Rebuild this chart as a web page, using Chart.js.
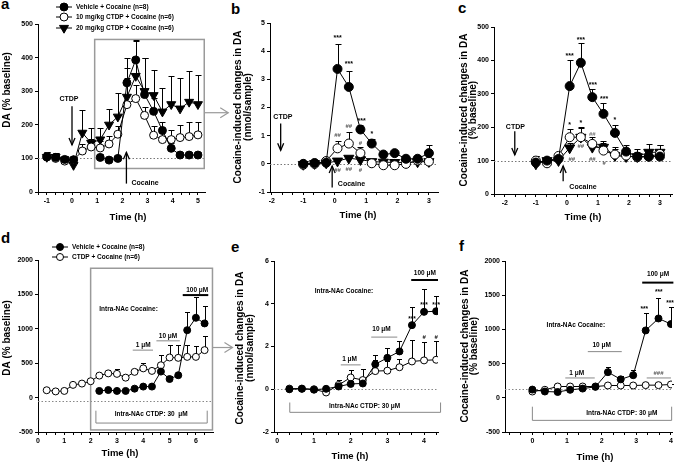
<!DOCTYPE html>
<html><head><meta charset="utf-8">
<script src="https://cdn.jsdelivr.net/npm/chart.js@4.4.1/dist/chart.umd.min.js"></script>
<style>
html,body{margin:0;padding:0;background:#fff;}
body{width:685px;height:463px;position:relative;overflow:hidden;font-family:"Liberation Sans",Arial,sans-serif;}
canvas{position:absolute;}
.lbl{position:absolute;font-weight:bold;font-size:15px;line-height:15px;color:#000;}
</style></head><body>
<div class="lbl" style="left:1px;top:-4px">a</div>
<div class="lbl" style="left:231px;top:1px">b</div>
<div class="lbl" style="left:458px;top:0px">c</div>
<div class="lbl" style="left:1px;top:230px">d</div>
<div class="lbl" style="left:231px;top:239px">e</div>
<div class="lbl" style="left:459px;top:238px">f</div>
<script>
// ================= DATA =================
// Panel a : systemic CTDP, DA (% baseline)
const aTime = [-1, -0.65, -0.29, 0.06, 0.41, 0.76, 1.12, 1.47, 1.82, 2.18, 2.53, 2.88, 3.24, 3.59, 3.94, 4.29, 4.65, 5.0];
const aVehicle    = [104, 103, 97, 96, null, null, 103, 95, 100, 325, 393, 290, 240, 183, 130, 110, 110, 110];
const aVehicleErr = [15, 12, 10, 8, null, null, 10, 8, 8, 75, 58, 108, 40, 25, 15, 8, 8, 8];
const aCTDP10     = [105, 100, 92, 95, 122, 134, 131, 143, 172, 260, 278, 228, 169, 156, 156, 162, 165, 170];
const aCTDP10Err  = [10, 8, 8, 8, 20, 25, 20, 25, 25, 80, 40, 25, 27, 30, 30, 37, 44, 38];
const aCTDP20     = [104, 104, 96, 80, 176, 146, 156, 200, 224, 283, 345, 300, 288, 239, 261, 248, 268, 261];
const aCTDP20Err  = [15, 12, 10, 10, 69, 43, 33, 48, 71, 85, 105, 100, 75, 70, 84, 90, 92, 87];
const aYTicks = [0, 500, 100];

// Panels b and c share the time base
const bcTime = [-1, -0.64, -0.27, 0.09, 0.45, 0.82, 1.18, 1.55, 1.91, 2.27, 2.64, 3.0];
// Panel b : nmol/sample
const bVehicle    = [0, 0.03, 0.04, 3.37, 2.73, 1.22, 0.72, 0.33, 0.38, 0.18, 0.18, 0.38];
const bVehicleErr = [0.03, 0.03, 0.04, 0.9, 0.57, 0.15, 0.17, 0.1, 0.08, 0.07, 0.08, 0.28];
const bCTDP10     = [-0.03, 0.0, 0.1, 0.55, 0.72, 0.38, 0.02, -0.05, -0.05, 0.0, 0.12, 0.08];
const bCTDP10Err  = [0.03, 0.03, 0.03, 0.27, 0.42, 0.2, 0.05, 0.05, 0.05, 0.05, 0.06, 0.05];
const bCTDP20     = [-0.02, 0.01, 0.03, 0.1, 0.2, 0.15, 0.08, 0.06, 0.05, 0.05, 0.07, 0.08];
const bCTDP20Err  = [0.02, 0.02, 0.02, 0.03, 0.05, 0.04, 0.03, 0.03, 0.03, 0.03, 0.03, 0.03];
const bYTicks = [-1, 5, 1];
// Panel c : % baseline
const cVehicle    = [94, 100, 105, 323, 393, 290, 240, 183, 127, 112, 112, 112];
const cVehicleErr = [20, 8, 10, 77, 59, 23, 33, 25, 20, 12, 12, 15];
const cCTDP10     = [100, 92, 114, 170, 170, 150, 130, 118, 115, 110, 112, 120];
const cCTDP10Err  = [15, 8, 8, 24, 27, 22, 22, 18, 15, 15, 15, 27];
const cCTDP20     = [90, 100, 100, 138, 170, 140, 140, 115, 112, 112, 125, 125];
const cCTDP20Err  = [10, 5, 8, 15, 30, 12, 20, 25, 25, 22, 25, 22];
const cYTicks = [0, 500, 100];

// Panel d : intra-NAc, DA (% baseline)
const dTime = [0.33, 0.67, 1, 1.33, 1.67, 2, 2.33, 2.67, 3, 3.33, 3.67, 4, 4.33, 4.67, 5, 5.33, 5.67, 6, 6.33];
const dVehicle    = [null, null, null, null, null, null, 97, 110, 97, 97, 130, 160, 160, 378, 270, 325, 980, 1160, 1078];
const dVehicleErr = [null, null, null, null, null, null, 20, 20, 20, 20, 25, 25, 25, 234, 40, 40, 260, 300, 252];
const dCTDP       = [107, 90, 97, 185, 204, 238, 320, 352, 345, 290, 374, 425, 388, 470, 583, 578, 592, 592, 690];
const dCTDPErr    = [15, 15, 15, 20, 20, 25, 30, 56, 77, 30, 40, 80, 40, 150, 180, 180, 170, 165, 210];
const dYTicks = [-500, 2000, 500];

// Panel e : nmol/sample
const eTime = [0.33, 0.67, 1, 1.33, 1.67, 2, 2.33, 2.67, 3, 3.33, 3.67, 4, 4.33];
const eVehicle    = [0, 0.02, -0.02, 0.02, 0.13, 0.25, 0.27, 1.17, 1.47, 1.77, 3.0, 3.62, 3.65];
const eVehicleErr = [0.08, 0.08, 0.08, 0.08, 0.1, 0.15, 0.2, 0.44, 0.45, 0.51, 0.87, 1.06, 0.73];
const eCTDP       = [0.03, 0.03, 0.0, -0.15, 0.2, 0.55, 0.43, 0.85, 0.87, 1.03, 1.3, 1.35, 1.38];
const eCTDPErr    = [0.08, 0.12, 0.08, 0.08, 0.24, 0.33, 0.51, 0.53, 0.45, 0.4, 1.0, 0.88, 0.88];
const eYTicks = [-2, 6, 2];

// Panel f : % baseline
const fTime = [0, 0.36, 0.73, 1.09, 1.45, 1.82, 2.18, 2.55, 2.91, 3.27, 3.64, 4.0];
const fVehicle    = [120, 92, 85, 117, 135, 160, 375, 270, 330, 985, 1160, 1078];
const fVehicleErr = [15, 12, 12, 15, 15, 15, 75, 50, 80, 255, 295, 255];
const fCTDP       = [92, 117, 165, 165, 165, 165, 180, 180, 180, 185, 185, 195];
const fCTDPErr    = [10, 10, 10, 10, 10, 10, 10, 10, 10, 10, 10, 10];
const fYTicks = [-500, 2000, 500];

// ================= DRAWING =================
const FONT = '"Liberation Sans", Arial, Helvetica, sans-serif';
const fnt = (s, w) => (w || 'bold') + ' ' + s + 'px ' + FONT;
const GRAY = '#9a9a9a';
const EXTRA = {};

function drawMarker(ctx, m, x, y, r) {
  ctx.save();
  ctx.lineWidth = 1; ctx.strokeStyle = '#000';
  ctx.beginPath();
  if (m === 'tri') {
    const R = r * 1.3;
    ctx.moveTo(x, y + R);
    ctx.lineTo(x + R * 0.866, y - R / 2);
    ctx.lineTo(x - R * 0.866, y - R / 2);
    ctx.closePath();
    ctx.fillStyle = '#000';
  } else {
    ctx.arc(x, y, r, 0, Math.PI * 2);
    ctx.fillStyle = m === 'open' ? '#fff' : '#000';
  }
  ctx.fill(); ctx.stroke();
  ctx.restore();
}

function head(ctx, tx, ty, dx, dy, len, half) {
  const bx = tx - dx * len, by = ty - dy * len;
  const px = -dy, py = dx;
  ctx.beginPath();
  ctx.moveTo(bx + px * half, by + py * half);
  ctx.lineTo(tx, ty);
  ctx.lineTo(bx - px * half, by - py * half);
  ctx.stroke();
}

function drawItem(chart, it) {
  const ctx = chart.ctx;
  const xs = chart.scales.x, ys = chart.scales.y, ca = chart.chartArea;
  const X = v => xs.getPixelForValue(v), Y = v => ys.getPixelForValue(v);
  ctx.save();
  ctx.strokeStyle = it.c || '#000'; ctx.fillStyle = it.c || '#000';
  ctx.lineWidth = it.lw || 1;
  ctx.textBaseline = 'middle';
  switch (it.k) {
    case 'text':
      ctx.font = fnt(it.s || 7, it.w); ctx.textAlign = it.a || 'center';
      ctx.fillText(it.t, X(it.x), Y(it.y)); break;
    case 'hline':
      ctx.setLineDash(it.dash || [1.5, 2]);
      ctx.beginPath(); ctx.moveTo(ca.left, Math.round(Y(it.y)) + 0.5); ctx.lineTo(ca.right, Math.round(Y(it.y)) + 0.5); ctx.stroke(); break;
    case 'line':
      ctx.beginPath(); ctx.moveTo(X(it.x1), Y(it.y1)); ctx.lineTo(X(it.x2), Y(it.y2)); ctx.stroke(); break;
    case 'rect':
      ctx.strokeRect(X(it.x1), Y(it.y2), X(it.x2) - X(it.x1), Y(it.y1) - Y(it.y2)); break;
    case 'bracket': {
      const yb = Y(it.y), yt = Y(it.yt);
      ctx.beginPath();
      ctx.moveTo(X(it.x1), yt); ctx.lineTo(X(it.x1), yb); ctx.lineTo(X(it.x2), yb); ctx.lineTo(X(it.x2), yt);
      ctx.stroke(); break;
    }
    case 'varrow': {
      const x = X(it.x), y1 = Y(it.y1), y2 = Y(it.y2);
      const d = y2 > y1 ? 1 : -1;
      ctx.lineWidth = 1.3;
      ctx.beginPath(); ctx.moveTo(x, y1); ctx.lineTo(x, y2); ctx.stroke();
      head(ctx, x, y2, 0, d, 7, 3); break;
    }
    case 'harrow': {
      const x = X(it.x), y = Y(it.y);
      ctx.beginPath(); ctx.moveTo(x, y); ctx.lineTo(x + it.len, y); ctx.stroke();
      head(ctx, x + it.len, y, 1, 0, 8, 5); break;
    }
    case 'leg': {
      ctx.strokeStyle = '#000'; ctx.lineWidth = 1;
      ctx.beginPath(); ctx.moveTo(it.px - 8, it.py); ctx.lineTo(it.px + 8, it.py); ctx.stroke();
      drawMarker(ctx, it.m, it.px, it.py, it.r || 4);
      ctx.font = fnt(it.s || 6.5, it.w); ctx.textAlign = 'left'; ctx.fillStyle = '#000';
      ctx.fillText(it.t, it.px + 12, it.py + 0.5); break;
    }
  }
  ctx.restore();
}

const deco = {
  id: 'deco',
  beforeDatasetsDraw(chart) {
    const p = EXTRA[chart.canvas.id];
    p.items.filter(i => i.below).forEach(i => drawItem(chart, i));
    const ctx = chart.ctx;
    chart.data.datasets.forEach((ds, di) => {
      const meta = chart.getDatasetMeta(di);
      const err = ds.errorBars;
      if (!err) return;
      ctx.save();
      ctx.strokeStyle = '#000'; ctx.lineWidth = 1;
      meta.data.forEach((pt, i) => {
        const v = ds.data[i].y, e = err[i];
        if (v == null || e == null) return;
        const x = Math.round(pt.x) + 0.5;
        const yTop = Math.round(chart.scales.y.getPixelForValue(v + e)) + 0.5;
        ctx.beginPath();
        ctx.moveTo(x, pt.y); ctx.lineTo(x, yTop);
        ctx.moveTo(x - p.cap, yTop); ctx.lineTo(x + p.cap, yTop);
        ctx.stroke();
      });
      ctx.restore();
    });
  },
  afterDatasetsDraw(chart) {
    const p = EXTRA[chart.canvas.id];
    p.items.filter(i => !i.below).forEach(i => drawItem(chart, i));
  },
  afterDraw(chart) {
    const p = EXTRA[chart.canvas.id];
    const ctx = chart.ctx;
    ctx.save();
    ctx.fillStyle = '#000'; ctx.textAlign = 'center'; ctx.textBaseline = 'middle';
    ctx.font = fnt(p.xTitle.s || 9.5);
    ctx.fillText('Time (h)', p.xTitle.x - p.L, p.xTitle.y - p.T);
    ctx.font = fnt(p.yTitle.s || 10);
    p.yTitle.lines.forEach((t, i) => {
      ctx.save();
      ctx.translate(p.yTitle.x[i] - p.L, p.yTitle.y - p.T);
      ctx.rotate(-Math.PI / 2);
      ctx.fillText(t, 0, 0);
      ctx.restore();
    });
    ctx.restore();
  }
};

function style(m, r) {
  const base = { borderColor: '#000', borderWidth: 1, pointBorderColor: '#000', pointBorderWidth: 1, spanGaps: false, fill: false, tension: 0 };
  if (m === 'tri') return Object.assign(base, { pointStyle: 'triangle', pointRotation: 180, pointRadius: r * 1.3, pointBackgroundColor: '#000' });
  if (m === 'open') return Object.assign(base, { pointStyle: 'circle', pointRadius: r, pointBackgroundColor: '#fff' });
  return Object.assign(base, { pointStyle: 'circle', pointRadius: r, pointBackgroundColor: '#000' });
}

function makePanel(p) {
  const cv = document.createElement('canvas');
  cv.id = p.id; cv.width = p.W; cv.height = p.H;
  cv.style.left = p.L + 'px'; cv.style.top = p.T + 'px';
  cv.style.width = p.W + 'px'; cv.style.height = p.H + 'px';
  document.body.appendChild(cv);
  EXTRA[p.id] = p;
  const yAxisW = p.area.l - p.L;
  const xAxisH = p.T + p.H - p.area.b;
  const tickFont = { family: FONT, size: 7, weight: 'bold' };
  new Chart(cv, {
    type: 'line',
    data: {
      datasets: p.series.map(s => Object.assign({
        data: s.x.map((x, i) => ({ x: x, y: s.y[i] })),
        errorBars: s.err
      }, style(s.m, p.r)))
    },
    options: {
      responsive: false, animation: false, devicePixelRatio: 1,
      layout: { padding: { top: p.area.t - p.T, right: p.L + p.W - p.area.r, bottom: 0, left: 0 } },
      plugins: { legend: { display: false }, tooltip: { enabled: false } },
      scales: {
        x: {
          type: 'linear', position: 'bottom', min: p.xMin, max: p.xMax,
          afterBuildTicks(s) {
            const t = [];
            for (let k = Math.ceil(s.min * 3 - 1e-6); k <= Math.floor(s.max * 3 + 1e-6); k++) t.push({ value: k / 3 });
            s.ticks = t;
          },
          afterFit(s) { s.height = xAxisH; },
          ticks: { font: tickFont, color: '#000', padding: 2, autoSkip: false, maxRotation: 0,
            callback: v => Math.abs(v - Math.round(v)) < 1e-6 ? String(Math.round(v)) : '' },
          grid: { drawOnChartArea: false, drawTicks: true, tickLength: 3, color: '#000', lineWidth: 1 },
          border: { display: true, color: '#000', width: 1 },
          title: { display: false }
        },
        y: {
          type: 'linear', position: 'left', min: p.yt[0], max: p.yt[1],
          afterFit(s) { s.width = yAxisW; },
          ticks: { stepSize: p.yt[2], font: tickFont, color: '#000', padding: 2, callback: v => String(v) },
          grid: { drawOnChartArea: false, drawTicks: true, tickLength: 3, color: '#000', lineWidth: 1 },
          border: { display: true, color: '#000', width: 1 },
          title: { display: false }
        }
      }
    },
    plugins: [deco]
  });
}

const panels = [
  { id: 'pa', L: 0, T: 0, W: 236, H: 232, area: { l: 38, r: 205, t: 24, b: 192 },
    xMin: -1.35, xMax: 5.28, yt: aYTicks, r: 4, cap: 3,
    series: [
      { x: aTime, y: aVehicle, err: aVehicleErr, m: 'filled' },
      { x: aTime, y: aCTDP10, err: aCTDP10Err, m: 'open' },
      { x: aTime, y: aCTDP20, err: aCTDP20Err, m: 'tri' }],
    xTitle: { x: 128, y: 217 }, yTitle: { lines: ['DA (% baseline)'], x: [7], y: 90 },
    items: [
      { k: 'hline', y: 100, c: '#777', below: true },
      { k: 'rect', x1: 0.9, x2: 5.25, y1: 70, y2: 454, c: GRAY, lw: 1.5, below: true },
      { k: 'harrow', x: 5.25, y: 236, len: 24, c: GRAY, lw: 1.2 },
      { k: 'varrow', x: 0, y1: 255, y2: 140 },
      { k: 'text', x: -0.12, y: 277, t: 'CTDP' },
      { k: 'varrow', x: 2.16, y1: 25, y2: 118 },
      { k: 'text', x: 2.36, y: 26, t: 'Cocaine', a: 'left' },
      { k: 'leg', px: 64, py: 7, m: 'filled', t: 'Vehicle + Cocaine (n=8)' },
      { k: 'leg', px: 64, py: 17, m: 'open', t: '10 mg/kg CTDP + Cocaine (n=6)' },
      { k: 'leg', px: 64, py: 28, m: 'tri', t: '20 mg/kg CTDP + Cocaine (n=6)' }
    ] },
  { id: 'pb', L: 225, T: 0, W: 230, H: 232, area: { l: 270, r: 438, t: 23, b: 192 },
    xMin: -2.06, xMax: 3.29, yt: bYTicks, r: 4.5, cap: 3,
    series: [
      { x: bcTime, y: bVehicle, err: bVehicleErr, m: 'filled' },
      { x: bcTime, y: bCTDP10, err: bCTDP10Err, m: 'open' },
      { x: bcTime, y: bCTDP20, err: bCTDP20Err, m: 'tri' }],
    xTitle: { x: 358, y: 215 }, yTitle: { lines: ['Cocaine-induced changes in DA', '(nmol/sample)'], x: [238.5, 248], y: 107 },
    items: [
      { k: 'hline', y: 0, c: '#777', below: true },
      { k: 'varrow', x: -1.72, y1: 1.43, y2: 0.48 },
      { k: 'text', x: -1.65, y: 1.66, t: 'CTDP' },
      { k: 'varrow', x: -0.08, y1: -0.84, y2: -0.08 },
      { k: 'text', x: 0.1, y: -0.71, t: 'Cocaine', a: 'left' },
      { k: 'text', x: 0.09, y: 4.45, t: '***' },
      { k: 'text', x: 0.45, y: 3.55, t: '***' },
      { k: 'text', x: 0.86, y: 1.52, t: '***' },
      { k: 'text', x: 1.18, y: 1.06, t: '*' },
      { k: 'text', x: 0.09, y: 1.02, t: '##', c: '#555', s: 6 },
      { k: 'text', x: 0.45, y: 1.33, t: '##', c: '#555', s: 6 },
      { k: 'text', x: 0.82, y: 0.72, t: '#', c: '#555', s: 6 },
      { k: 'text', x: 0.09, y: -0.24, t: '##', c: '#555', s: 6 },
      { k: 'text', x: 0.45, y: -0.2, t: '##', c: '#555', s: 6 },
      { k: 'text', x: 0.82, y: -0.24, t: '#', c: '#555', s: 6 }
    ] },
  { id: 'pc', L: 455, T: 0, W: 230, H: 232, area: { l: 494, r: 672, t: 27, b: 194 },
    xMin: -2.35, xMax: 3.39, yt: cYTicks, r: 4.5, cap: 3,
    series: [
      { x: bcTime, y: cVehicle, err: cVehicleErr, m: 'filled' },
      { x: bcTime, y: cCTDP10, err: cCTDP10Err, m: 'open' },
      { x: bcTime, y: cCTDP20, err: cCTDP20Err, m: 'tri' }],
    xTitle: { x: 583, y: 217 }, yTitle: { lines: ['Cocaine-induced changes in DA', '(% baseline)'], x: [464, 473.5], y: 110 },
    items: [
      { k: 'hline', y: 100, c: '#777', below: true },
      { k: 'varrow', x: -1.68, y1: 188, y2: 117 },
      { k: 'text', x: -1.66, y: 201, t: 'CTDP' },
      { k: 'varrow', x: -0.12, y1: 38, y2: 84 },
      { k: 'text', x: 0.08, y: 21, t: 'Cocaine', a: 'left' },
      { k: 'text', x: 0.09, y: 412, t: '***' },
      { k: 'text', x: 0.45, y: 462, t: '***' },
      { k: 'text', x: 0.84, y: 325, t: '***' },
      { k: 'text', x: 1.2, y: 283, t: '***' },
      { k: 'text', x: 1.55, y: 222, t: '*' },
      { k: 'text', x: 0.09, y: 207, t: '*' },
      { k: 'text', x: 0.45, y: 212, t: '*' },
      { k: 'text', x: 0.45, y: 142, t: '##', c: '#555', s: 6 },
      { k: 'text', x: 0.82, y: 178, t: '##', c: '#777', s: 6 },
      { k: 'text', x: 0.16, y: 104, t: '##', c: '#555', s: 6 },
      { k: 'text', x: 0.82, y: 104, t: '##', c: '#555', s: 6 },
      { k: 'text', x: 1.2, y: 92, t: '#', c: '#555', s: 6 }
    ] },
  { id: 'pd', L: 0, T: 232, W: 236, H: 231, area: { l: 38, r: 213, t: 260, b: 432 },
    xMin: 0, xMax: 6.65, yt: dYTicks, r: 3.5, cap: 2.5,
    series: [
      { x: dTime, y: dVehicle, err: dVehicleErr, m: 'filled' },
      { x: dTime, y: dCTDP, err: dCTDPErr, m: 'open' }],
    xTitle: { x: 120, y: 453 }, yTitle: { lines: ['DA (% baseline)'], x: [7.5], y: 338 },
    items: [
      { k: 'hline', y: -55, c: '#888', below: true },
      { k: 'rect', x1: 2.0, x2: 6.63, y1: -470, y2: 1880, c: GRAY, lw: 1.5, below: true },
      { k: 'harrow', x: 6.63, y: 728, len: 20, c: GRAY, lw: 1.2 },
      { k: 'bracket', x1: 2.2, x2: 6.43, y: -370, yt: -190, c: '#888' },
      { k: 'text', x: 4.3, y: -235, t: 'Intra-NAc CTDP: 30  μM', s: 6.5 },
      { k: 'text', x: 2.33, y: 1282, t: 'Intra-NAc Cocaine:', a: 'left', s: 6.5 },
      { k: 'text', x: 4.0, y: 765, t: '1 μM', s: 6.5 },
      { k: 'line', x1: 3.6, x2: 4.37, y1: 690, y2: 690, c: '#888' },
      { k: 'text', x: 4.94, y: 893, t: '10 μM', s: 6.5 },
      { k: 'line', x1: 4.5, x2: 5.39, y1: 825, y2: 825, c: '#888' },
      { k: 'text', x: 6.05, y: 1560, t: '100 μM', s: 6.5 },
      { k: 'line', x1: 5.5, x2: 6.47, y1: 1490, y2: 1490, lw: 2 },
      { k: 'leg', px: 60, py: 15, m: 'filled', r: 3.5, t: 'Vehicle + Cocaine (n=8)' },
      { k: 'leg', px: 60, py: 25, m: 'open', r: 3.5, t: 'CTDP + Cocaine (n=6)' }
    ] },
  { id: 'pe', L: 225, T: 232, W: 230, H: 231, area: { l: 274, r: 438, t: 261, b: 432 },
    xMin: -0.09, xMax: 4.38, yt: eYTicks, r: 3.5, cap: 2.5,
    series: [
      { x: eTime, y: eVehicle, err: eVehicleErr, m: 'filled' },
      { x: eTime, y: eCTDP, err: eCTDPErr, m: 'open' }],
    xTitle: { x: 350, y: 456 }, yTitle: { lines: ['Cocaine-induced changes in DA', '(nmol/sample)'], x: [240, 250], y: 348 },
    items: [
      { k: 'hline', y: 0, c: '#888', below: true },
      { k: 'bracket', x1: 0.34, x2: 4.45, y: -1.08, yt: -0.62, c: '#888' },
      { k: 'text', x: 2.38, y: -0.77, t: 'Intra-NAc CTDP: 30 μM', s: 6.5 },
      { k: 'text', x: 1.02, y: 4.57, t: 'Intra-NAc Cocaine:', a: 'left', s: 6.5 },
      { k: 'text', x: 1.97, y: 1.42, t: '1 μM', s: 6.5 },
      { k: 'line', x1: 1.73, x2: 2.27, y1: 1.14, y2: 1.14, c: '#888' },
      { k: 'text', x: 2.84, y: 2.8, t: '10 μM', s: 6.5 },
      { k: 'line', x1: 2.56, x2: 3.27, y1: 2.44, y2: 2.44, c: '#888' },
      { k: 'text', x: 4.02, y: 5.44, t: '100 μM', s: 6.5 },
      { k: 'line', x1: 3.65, x2: 4.38, y1: 5.11, y2: 5.11, lw: 2 },
      { k: 'text', x: 3.67, y: 3.27, t: '***', s: 6.5 },
      { k: 'text', x: 4.0, y: 3.95, t: '***', s: 6.5 },
      { k: 'text', x: 4.33, y: 3.95, t: '***', s: 6.5 },
      { k: 'text', x: 4.0, y: 2.44, t: '#', s: 6 },
      { k: 'text', x: 4.33, y: 2.44, t: '#', s: 6 }
    ] },
  { id: 'pf', L: 455, T: 232, W: 230, H: 231, area: { l: 505, r: 672, t: 261, b: 432 },
    xMin: -0.79, xMax: 4.03, yt: fYTicks, r: 3.5, cap: 2.5,
    series: [
      { x: fTime, y: fVehicle, err: fVehicleErr, m: 'filled' },
      { x: fTime, y: fCTDP, err: fCTDPErr, m: 'open' }],
    xTitle: { x: 595, y: 457 }, yTitle: { lines: ['Cocaine-induced changes in DA', '(% baseline)'], x: [465, 474], y: 346 },
    items: [
      { k: 'hline', y: 126, c: '#888', below: true },
      { k: 'bracket', x1: 0.0, x2: 4.02, y: -330, yt: -130, c: '#888' },
      { k: 'text', x: 2.58, y: -223, t: 'Intra-NAc CTDP: 30 μM', s: 6.5 },
      { k: 'text', x: 0.41, y: 1063, t: 'Intra-NAc Cocaine:', a: 'left', s: 6.5 },
      { k: 'text', x: 1.28, y: 362, t: '1 μM', s: 6.5 },
      { k: 'line', x1: 0.95, x2: 1.8, y1: 290, y2: 290, c: '#888' },
      { k: 'text', x: 2.0, y: 772, t: '10 μM', s: 6.5 },
      { k: 'line', x1: 1.6, x2: 2.58, y1: 675, y2: 675, c: '#888' },
      { k: 'text', x: 3.63, y: 1800, t: '100 μM', s: 6.5 },
      { k: 'line', x1: 3.17, x2: 4.07, y1: 1684, y2: 1684, lw: 2 },
      { k: 'text', x: 3.64, y: 362, t: '###', c: '#555', s: 6 },
      { k: 'line', x1: 3.3, x2: 4.0, y1: 290, y2: 290, c: '#888' },
      { k: 'text', x: 3.23, y: 1300, t: '***', s: 6.5 },
      { k: 'text', x: 3.65, y: 1549, t: '***', s: 6.5 },
      { k: 'text', x: 3.97, y: 1379, t: '***', s: 6.5 }
    ] }
];

panels.forEach(makePanel);
</script>
</body></html>
